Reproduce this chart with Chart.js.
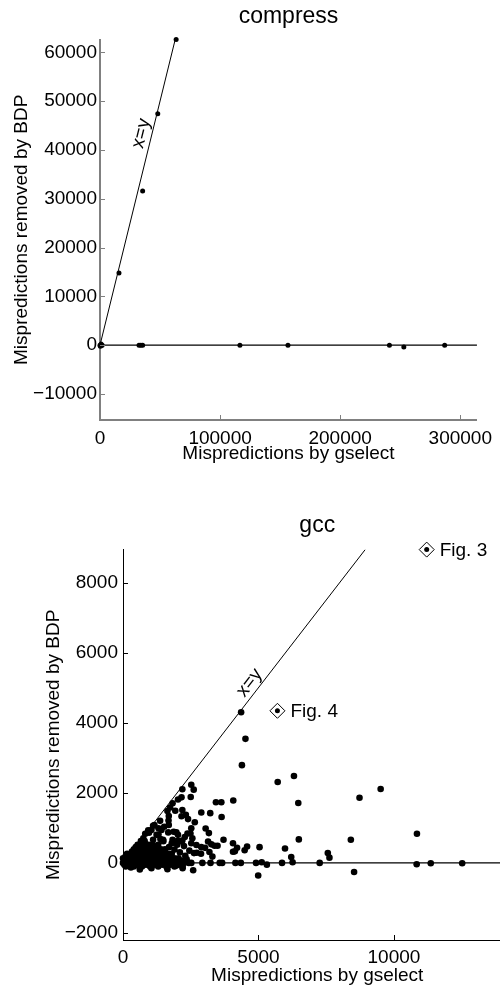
<!DOCTYPE html>
<html lang="en">
<head>
  <meta charset="UTF-8">
  <title>compress / gcc - Mispredictions removed by BDP</title>
  <script src="https://cdn.jsdelivr.net/npm/chart.js"></script>
  <style>
    html, body { margin: 0; padding: 0; background: #fff; overflow: hidden; }
    #wrap { position: relative; width: 500px; height: 987px; overflow: hidden; }
    canvas { position: absolute; left: 0; }
    #compressChart { top: 0; }
    #gccChart { top: 470px; }
  </style>
</head>
<body>
  <div id="wrap">
    <canvas id="compressChart" width="500" height="470"></canvas>
    <canvas id="gccChart" width="520" height="517"></canvas>
  </div>

  <script>
    // --- compress: [mispredictions by gselect, mispredictions removed by BDP]
    const compressPoints = [
      [0, 0], [600, 0], [1200, 0], [1800, 0], [900, 250], [300, -250],
      [15800, 14800], [35500, 31600], [48100, 47400], [63400, 62600],
      [32500, 0], [34000, 0], [35500, 0], [116500, 0], [156500, 0],
      [241000, 0], [253000, -400], [287000, 0]
    ];
    const compressXTicks = [0, 100000, 200000, 300000];
    const compressYTicks = [-10000, 0, 10000, 20000, 30000, 40000, 50000, 60000];
    const compressXRange = [0, 313900];
    const compressYRange = [-15340, 62600];

    // --- gcc
    const gccPoints = [
      // outer points
      [4360, 4300], [4520, 3540], [4390, 2790], [5710, 2310], [6310, 2480], [6470, 1710], [9510, 2110], [8730, 1860],
      [6490, 670], [5980, 410], [8410, 660], [10850, 830], [7560, 280], [7620, 150], [6210, 170], [6260, 20],
      [5870, 0], [7260, 0], [8530, -260], [4990, -360], [5310, -50], [5120, 20], [4910, 0], [10840, -40],
      [11360, -10], [12520, -10], [5040, 450], [4580, 470], [4490, 360], [4210, 430], [4060, 560], [4130, 330],
      [4150, 0], [4350, 0], [4070, 1780], [3630, 1730], [3430, 1730], [3640, 1310], [3220, 1420], [2890, 1440],
      [3710, 660], [3050, 980], [3170, 850], [3490, 490], [3380, 490], [3260, 530], [3030, 430], [2890, 450],
      [3190, 310], [3300, 180], [2880, 260], [3140, 610], [2710, 510], [2930, 0], [3230, 0], [3570, 0],
      [3660, 0], [4060, 320], [2590, -210], [2720, 290], [2620, 280], [2520, 0], [2430, 0], [2560, 700], [2520, 990],
      // along the diagonal
      [2190, 2100], [2520, 2230], [2610, 2090], [2500, 1880], [2160, 1870], [2030, 1810], [1830, 1700], [1740, 1580],
      [1640, 1480], [1930, 1490], [2190, 1510], [2320, 1370], [2160, 1330], [2650, 1160], [1690, 1340], [1680, 1210],
      [1690, 1080], [1970, 870], [2380, 840], [2490, 840], [2280, 740], [2190, 640], [1370, 1200], [1310, 990],
      [1520, 1030], [1160, 1080], [1110, 1060], [930, 930], [820, 830], [960, 860], [1670, 870], [1310, 810],
      [1420, 940], [1870, 890], [1050, 940], [1240, 800], [2030, 800], [750, 705], [1110, 660], [1480, 660],
      [1850, 610], [2160, 610], [2520, 560], [1380, 680], [1830, 660], [1490, 620], [2020, 630], [2400, 1250],
      // dense cluster near the origin
      [0, 0], [150, 0], [300, 0], [450, 0], [600, 0], [750, 0], [900, 0], [1050, 0], [1200, 0], [1350, 0],
      [1500, 0], [1650, 0], [1800, 0], [1950, 0], [2100, 0], [2250, 0],
      [50, -50], [250, -50], [550, -50], [850, -50], [1150, -50], [1450, -50], [1750, -50], [2050, -50],
      [100, -100], [400, -100], [700, -100], [1000, -100], [1300, -100], [1600, -100], [1900, -100], [2200, -100],
      [290, -130], [620, -190], [1050, -150], [1640, -180],
      [50, 65], [200, 65], [350, 65], [500, 65], [650, 65], [800, 65], [950, 65], [1100, 65],
      [1250, 65], [1400, 65], [1550, 65], [1700, 65], [1850, 65], [2000, 65], [2150, 65],
      [0, 130], [100, 130], [250, 130], [400, 130], [550, 130], [700, 130], [850, 130], [1000, 130],
      [1150, 130], [1300, 130], [1450, 130], [1600, 130], [1750, 130], [1900, 130], [2050, 130],
      [100, 195], [220, 195], [380, 195], [520, 195], [680, 195], [820, 195], [980, 195], [1120, 195],
      [1280, 195], [1420, 195], [1580, 195], [1720, 195],
      [150, 260], [300, 260], [450, 260], [600, 260], [750, 260], [900, 260], [1050, 260], [1200, 260],
      [1350, 260], [1500, 260], [1650, 260], [1800, 260],
      [330, 325], [480, 325], [620, 325], [780, 325], [920, 325], [1080, 325], [1220, 325], [1380, 325], [1480, 325],
      [400, 390], [500, 390], [650, 390], [800, 390], [950, 390], [1100, 390], [1250, 390], [1400, 390], [1550, 390],
      [470, 455], [600, 455], [730, 455], [880, 455], [1020, 455], [1180, 455],
      [540, 520], [650, 520], [800, 520], [950, 520], [1100, 520], [1300, 520], [660, 620], [800, 620],
      [1700, 450], [1900, 380], [2100, 300], [2300, 200], [2450, 350], [2000, 520], [2250, 480], [1800, 560],
      [2350, 100], [2200, -150], [1950, -80]
    ];
    const gccXTicks = [0, 5000, 10000];
    const gccYTicks = [-2000, 0, 2000, 4000, 6000, 8000];
    const gccXRange = [0, 14340];
    const gccYRange = [-2200, 8940];
    const gccMarkers = [[11210, 8940], [5700, 4340]];
    const gccMarkerLabels = ['Fig. 3', 'Fig. 4'];

    const FONT = '"Liberation Sans", Arial, Helvetica, sans-serif';
    const toXY = arr => arr.map(p => ({x: p[0], y: p[1]}));
    const fmt = v => v < 0 ? '\u2212' + Math.abs(v) : String(v);

    // inward tick marks, the rotated x=y label and the Fig. labels
    const extrasPlugin = {
      id: 'extras',
      afterDraw(chart, args, opts) {
        const ctx = chart.ctx;
        const xs = chart.scales.x, ys = chart.scales.y;
        const area = chart.chartArea;
        ctx.save();
        ctx.strokeStyle = opts.tickColor;
        ctx.lineWidth = 1;
        ctx.beginPath();
        ys.ticks.forEach(t => {
          const py = Math.round(ys.getPixelForValue(t.value)) + 0.5;
          ctx.moveTo(area.left, py);
          ctx.lineTo(area.left + opts.tickLen, py);
        });
        xs.ticks.forEach(t => {
          const px = Math.round(xs.getPixelForValue(t.value)) + 0.5;
          ctx.moveTo(px, area.bottom);
          ctx.lineTo(px, area.bottom - opts.tickLen);
        });
        ctx.stroke();

        ctx.fillStyle = '#000';
        ctx.font = '19px ' + FONT;
        // x=y label
        const x0 = xs.getPixelForValue(0), y0 = ys.getPixelForValue(0);
        const x1 = xs.getPixelForValue(opts.diagEnd), y1 = ys.getPixelForValue(opts.diagEnd);
        const ang = Math.atan2(y1 - y0, x1 - x0);
        ctx.save();
        ctx.translate(xs.getPixelForValue(opts.diagLabel[0]), ys.getPixelForValue(opts.diagLabel[1]));
        ctx.rotate(ang);
        ctx.textAlign = 'center';
        ctx.textBaseline = 'middle';
        ctx.fillText('x=y', 0, 0);
        ctx.restore();

        (opts.markers || []).forEach((m, i) => {
          ctx.textAlign = 'left';
          ctx.textBaseline = 'middle';
          ctx.fillText(opts.markerLabels[i], xs.getPixelForValue(m[0]) + 13, ys.getPixelForValue(m[1]) + 1);
        });
        ctx.restore();
      }
    };

    function makeChart(id, cfg) {
      const datasets = [];
      if (cfg.markers) {
        datasets.push({
          data: toXY(cfg.markers), pointRadius: 2.5, pointStyle: 'circle',
          backgroundColor: '#000', borderColor: '#000', borderWidth: 0, clip: false
        });
        datasets.push({
          data: toXY(cfg.markers), pointRadius: 7.5, pointStyle: 'rectRot',
          backgroundColor: '#fff', borderColor: '#000', borderWidth: 1, clip: false
        });
      }
      datasets.push({
        data: toXY(cfg.points), pointRadius: cfg.dot, pointStyle: 'circle',
        backgroundColor: '#000', borderColor: '#000', borderWidth: 0, clip: false
      });
      // x=y line and zero line
      datasets.push({
        data: toXY([[0, 0], [cfg.diagEnd, cfg.diagEnd]]), showLine: true, pointRadius: 0,
        borderColor: '#000', borderWidth: 1
      });
      datasets.push({
        data: toXY([[0, 0], [cfg.xRange[1], 0]]), showLine: true, pointRadius: 0,
        borderColor: '#000', borderWidth: 1.2
      });

      const tickFont = {family: FONT, size: 19};
      return new Chart(document.getElementById(id), {
        type: 'scatter',
        data: {datasets},
        plugins: [extrasPlugin],
        options: {
          responsive: false,
          animation: false,
          devicePixelRatio: 1,
          layout: {padding: {left: 0, right: cfg.padRight, top: 0, bottom: 0}},
          plugins: {
            legend: {display: false},
            tooltip: {enabled: false},
            title: {
              display: true, text: cfg.title, color: '#000', fullSize: false,
              font: {family: FONT, size: 23, weight: 'normal'},
              padding: cfg.titlePad
            },
            extras: {
              tickColor: cfg.axisColor, tickLen: 5, diagEnd: cfg.diagEnd,
              diagLabel: cfg.diagLabel, markers: cfg.markers, markerLabels: cfg.markerLabels
            }
          },
          scales: {
            x: {
              type: 'linear', min: cfg.xRange[0], max: cfg.xRange[1],
              afterBuildTicks: s => { s.ticks = cfg.xTicks.map(v => ({value: v})); },
              afterFit: s => { s.height = cfg.xHeight; },
              grid: {display: false, drawTicks: false, tickLength: 0},
              border: {display: true, color: cfg.axisColor, width: cfg.axisWidth},
              ticks: {color: '#000', font: tickFont, padding: cfg.xLabelPad, maxRotation: 0, autoSkip: false, callback: fmt},
              title: {display: true, text: 'Mispredictions by gselect', color: '#000', font: tickFont, padding: {top: 0, bottom: cfg.xTitlePad}}
            },
            y: {
              type: 'linear', min: cfg.yRange[0], max: cfg.yRange[1],
              afterBuildTicks: s => { s.ticks = cfg.yTicks.map(v => ({value: v})); },
              afterFit: s => { s.width = cfg.yWidth; },
              grid: {display: false, drawTicks: false, tickLength: 0},
              border: {display: true, color: cfg.axisColor, width: cfg.axisWidth},
              ticks: {color: '#000', font: tickFont, padding: cfg.yLabelPad, autoSkip: false, callback: fmt},
              title: {display: true, text: 'Mispredictions removed by BDP', color: '#000', font: tickFont, padding: {top: cfg.yTitlePad, bottom: 0}}
            }
          }
        }
      });
    }

    makeChart('compressChart', {
      title: 'compress', titlePad: {top: 3, bottom: 9},
      points: compressPoints, dot: 2.5,
      xRange: compressXRange, yRange: compressYRange,
      xTicks: compressXTicks, yTicks: compressYTicks,
      diagEnd: 62600, diagLabel: [34400, 43360],
      axisColor: '#808080', axisWidth: 2,
      padRight: 17, xHeight: 50, yWidth: 100,
      xLabelPad: 7, xTitlePad: 5, yLabelPad: 3, yTitlePad: 10
    });

    makeChart('gccChart', {
      title: 'gcc', titlePad: {top: 42, bottom: 10},
      points: gccPoints, dot: 3.3,
      xRange: gccXRange, yRange: gccYRange,
      xTicks: gccXTicks, yTicks: gccYTicks,
      diagEnd: 8940, diagLabel: [4670, 5140],
      markers: gccMarkers, markerLabels: gccMarkerLabels,
      axisColor: '#000', axisWidth: 1,
      padRight: 7, xHeight: 47, yWidth: 123,
      xLabelPad: 6, xTitlePad: 0, yLabelPad: 5, yTitlePad: 42
    });
  </script>
</body>
</html>
